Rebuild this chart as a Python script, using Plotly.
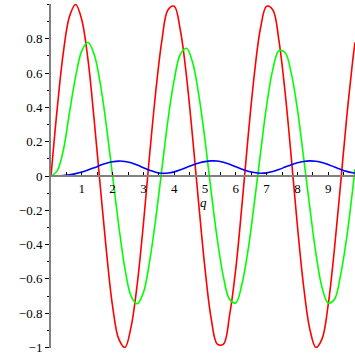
import plotly.graph_objects as go

q = [0.0, 0.2, 0.4, 0.6, 0.8, 1.0, 1.2, 1.4, 1.6, 1.8,
     2.0, 2.2, 2.4, 2.6, 2.8, 3.0, 3.2, 3.4, 3.6, 3.8,
     4.0, 4.2, 4.4, 4.6, 4.8, 5.0, 5.2, 5.4, 5.6, 5.8,
     6.0, 6.2, 6.4, 6.6, 6.8, 7.0, 7.2, 7.4, 7.6, 7.8,
     8.0, 8.2, 8.4, 8.6, 8.8, 9.0, 9.2, 9.4, 9.6, 9.8, 9.87]

red = [0.00, 0.39, 0.72, 0.93, 1.00, 0.91, 0.68, 0.33, -0.06, -0.44,
       -0.76, -0.95, -1.00, -0.88, -0.63, -0.28, 0.12, 0.49, 0.79, 0.97,
       0.99, 0.85, 0.58, 0.22, -0.17, -0.54, -0.83, -0.98, -0.98, -0.81,
       -0.54, -0.17, 0.23, 0.59, 0.86, 0.99, 0.97, 0.79, 0.49, 0.11,
       -0.29, -0.64, -0.89, -1.00, -0.95, -0.75, -0.43, -0.05, 0.34, 0.68, 0.78]

green = [0.00, 0.03, 0.15, 0.37, 0.58, 0.73, 0.78, 0.71, 0.54, 0.29,
         0.00, -0.29, -0.54, -0.70, -0.745, -0.68, -0.50, -0.25, 0.04, 0.33,
         0.56, 0.71, 0.745, 0.66, 0.47, 0.21, -0.09, -0.37, -0.59, -0.72,
         -0.74, -0.63, -0.43, -0.16, 0.13, 0.41, 0.62, 0.73, 0.72, 0.60,
         0.39, 0.11, -0.18, -0.45, -0.65, -0.74, -0.72, -0.58, -0.36, -0.07, 0.04]

blue = [0.000, 0.001, 0.003, 0.007, 0.014, 0.023, 0.035, 0.048, 0.062, 0.074,
        0.083, 0.087, 0.085, 0.077, 0.064, 0.048, 0.034, 0.022, 0.016, 0.017,
        0.024, 0.036, 0.050, 0.064, 0.076, 0.084, 0.088, 0.087, 0.080, 0.068,
        0.054, 0.040, 0.028, 0.020, 0.016, 0.018, 0.026, 0.038, 0.052, 0.066,
        0.077, 0.085, 0.088, 0.086, 0.079, 0.067, 0.053, 0.039, 0.027, 0.019, 0.017]

x_ticks = [1, 2, 3, 4, 5, 6, 7, 8, 9]
y_ticks = [-1, -0.8, -0.6, -0.4, -0.2, 0, 0.2, 0.4, 0.6, 0.8]
y_ticktext = ["\u22121", "\u22120.8", "\u22120.6", "\u22120.4", "\u22120.2", "0", "0.2", "0.4", "0.6", "0.8"]

fig = go.Figure()
for ys, col in [(red, "#ff0000"), (green, "#00ff00"), (blue, "#0000ff")]:
    fig.add_trace(go.Scatter(x=q, y=ys, mode="lines", line=dict(color=col, width=1.6, shape="spline", smoothing=1.0),
                             showlegend=False, hoverinfo="skip"))

axis_col = "#808080"
fig.update_layout(
    width=355, height=355,
    margin=dict(l=51, r=0, t=4, b=3),
    plot_bgcolor="white", paper_bgcolor="white",
    font=dict(family="Liberation Serif", size=13, color="#000000"),
    xaxis=dict(range=[0, 9.87], showgrid=False, zeroline=False,
               anchor="free", position=0.5,
               showline=True, linecolor=axis_col, linewidth=2,
               tickvals=x_ticks, ticks="inside", ticklen=3, tickcolor="#000000", tickwidth=1,
               minor=dict(dtick=0.5, tick0=0, ticks="inside", ticklen=3, tickcolor="#000000", tickwidth=1),
               tickfont=dict(family="Liberation Serif", size=13)),
    yaxis=dict(range=[-1.003, 1.003], showgrid=False, zeroline=False,
               showline=True, linecolor=axis_col, linewidth=2,
               tickvals=y_ticks, ticktext=y_ticktext, ticks="outside", ticklen=4, tickcolor="#000000", tickwidth=1,
               ticklabeloverflow="allow",
               minor=dict(dtick=0.1, tick0=0, ticks="outside", ticklen=2, tickcolor="#000000", tickwidth=1),
               tickfont=dict(family="Liberation Serif", size=13)),
    annotations=[dict(text="<i>q</i>", xref="paper", yref="paper", x=0.5, y=0.5, yshift=-26,
                      showarrow=False, font=dict(family="Liberation Serif", size=13))],
)

fig.write_html("out.html")
